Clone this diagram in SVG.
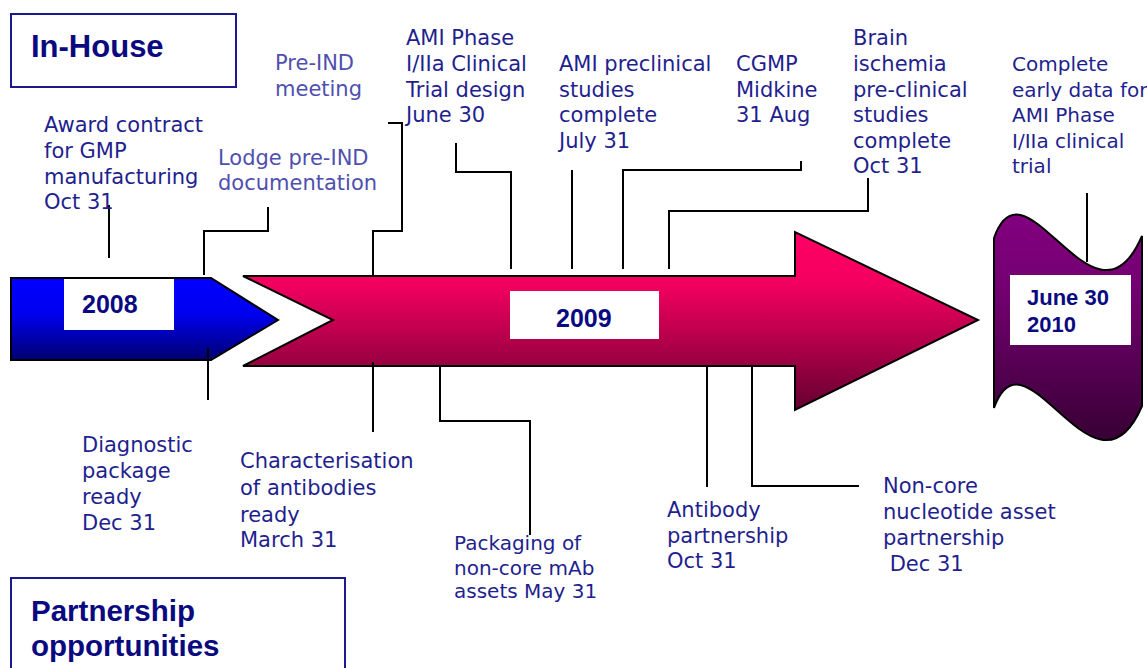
<svg xmlns="http://www.w3.org/2000/svg" width="1147" height="668" viewBox="0 0 1147 668">
<style>
.lbl{font-family:"DejaVu Sans","Liberation Sans",sans-serif;font-size:21px;fill:#1f1f8e}
.lt{fill:#4f4fae}
.sm{font-size:20px}
.hd{font-family:"Liberation Sans",Arial,sans-serif;font-weight:bold;font-size:31px;fill:#0a0a80}
.hd2{font-size:29.5px}
.yr{font-family:"Liberation Sans",Arial,sans-serif;font-weight:bold;font-size:25px;fill:#0a0a80}
.yr2{font-family:"Liberation Sans",Arial,sans-serif;font-weight:bold;font-size:22px;fill:#0a0a80}
.box{fill:#fff;stroke:#1a1a8c;stroke-width:2}
.wb{fill:#fff}
.conn path{fill:none;stroke:#000;stroke-width:2}
</style>
<defs>
<linearGradient id="gBlue" x1="0" y1="0" x2="0" y2="1"><stop offset="0" stop-color="#0000ff"/><stop offset="0.45" stop-color="#0000ee"/><stop offset="1" stop-color="#000070"/></linearGradient>
<linearGradient id="gPink" x1="0" y1="0" x2="0" y2="1"><stop offset="0" stop-color="#ff0066"/><stop offset="0.3" stop-color="#f2005f"/><stop offset="1" stop-color="#640030"/></linearGradient>
<linearGradient id="gPurple" x1="0" y1="0" x2="0" y2="1"><stop offset="0" stop-color="#820080"/><stop offset="0.35" stop-color="#720070"/><stop offset="1" stop-color="#380034"/></linearGradient>
</defs>
<rect width="1147" height="668" fill="#fff"/>

<g id="inhouse"><rect class="box" x="11" y="14" width="225" height="73"/><text class="hd" x="31" y="57">In-House</text></g>
<g id="partnership"><rect class="box" x="11" y="578" width="334" height="100"/><text class="hd hd2" x="31" y="621">Partnership</text><text class="hd hd2" x="31" y="656">opportunities</text></g>

<g id="arrow2008"><polygon points="11,278 211,278 278,320 211,360 11,360" fill="url(#gBlue)" stroke="#000" stroke-width="2"/><rect class="wb" x="64" y="279" width="110" height="51"/><text class="yr" x="82" y="313">2008</text></g>
<g id="arrow2009"><polygon points="243,276 795,276 795,232 978,320 795,410 795,366 243,366 333,320" fill="url(#gPink)" stroke="#000" stroke-width="2"/><rect class="wb" x="510" y="291" width="149" height="48"/><text class="yr" x="556" y="327">2009</text></g>
<g id="banner2010"><path d="M994,238 C1025,150 1095,345 1142,236 L1142,406 C1095,515 1025,320 994,408 Z" fill="url(#gPurple)" stroke="#000" stroke-width="2"/><rect class="wb" x="1010" y="275" width="121" height="70"/><text class="yr2" x="1027" y="305">June 30</text><text class="yr2" x="1027" y="332">2010</text></g>

<g class="conn" id="connectors">
<path d="M109,205 V258"/>
<path d="M268,207 V231 H204 V275"/>
<path d="M388,123 H402 V231 H373 V276"/>
<path d="M456,143 V172 H511 V269"/>
<path d="M572,170 V269"/>
<path d="M801,161 V170 H623 V269"/>
<path d="M868,178 V211 H669 V269"/>
<path d="M1087,193 V262"/>
<path d="M208,348 V400"/>
<path d="M373,362 V432"/>
<path d="M440,366 V421 H530 V535"/>
<path d="M707,366 V487"/>
<path d="M752,366 V486 H859"/>
</g>

<g id="t-award"><text class="lbl" x="44" y="132"><tspan x="44">Award contract</tspan><tspan x="44" dy="26">for GMP</tspan><tspan x="44" dy="26">manufacturing</tspan><tspan x="44" dy="25">Oct 31</tspan></text></g>
<g id="t-lodge"><text class="lbl lt" x="218" y="165"><tspan x="218">Lodge pre-IND</tspan><tspan x="218" dy="25">documentation</tspan></text></g>
<g id="t-preind"><text class="lbl lt" x="275" y="70"><tspan x="275">Pre-IND</tspan><tspan x="275" dy="26">meeting</tspan></text></g>
<g id="t-amiphase"><text class="lbl" x="406" y="45"><tspan x="406">AMI Phase</tspan><tspan x="406" dy="26">I/IIa Clinical</tspan><tspan x="406" dy="26">Trial design</tspan><tspan x="406" dy="25">June 30</tspan></text></g>
<g id="t-amipre"><text class="lbl" x="559" y="71"><tspan x="559">AMI preclinical</tspan><tspan x="559" dy="26">studies</tspan><tspan x="559" dy="25">complete</tspan><tspan x="559" dy="26">July 31</tspan></text></g>
<g id="t-cgmp"><text class="lbl" x="736" y="71"><tspan x="736">CGMP</tspan><tspan x="736" dy="26">Midkine</tspan><tspan x="736" dy="25">31 Aug</tspan></text></g>
<g id="t-brain"><text class="lbl" x="853" y="45"><tspan x="853">Brain</tspan><tspan x="853" dy="26">ischemia</tspan><tspan x="853" dy="26">pre-clinical</tspan><tspan x="853" dy="25">studies</tspan><tspan x="853" dy="26">complete</tspan><tspan x="853" dy="25">Oct 31</tspan></text></g>
<g id="t-complete"><text class="lbl sm" x="1012" y="71"><tspan x="1012">Complete</tspan><tspan x="1012" dy="25.5">early data for</tspan><tspan x="1012" dy="25.5">AMI Phase</tspan><tspan x="1012" dy="25.5">I/IIa clinical</tspan><tspan x="1012" dy="25.5">trial</tspan></text></g>
<g id="t-diag"><text class="lbl" x="82" y="452"><tspan x="82">Diagnostic</tspan><tspan x="82" dy="26">package</tspan><tspan x="82" dy="26">ready</tspan><tspan x="82" dy="26">Dec 31</tspan></text></g>
<g id="t-char"><text class="lbl" x="240" y="468"><tspan x="240">Characterisation</tspan><tspan x="240" dy="27">of antibodies</tspan><tspan x="240" dy="27">ready</tspan><tspan x="240" dy="25">March 31</tspan></text></g>
<g id="t-pack"><text class="lbl sm" x="454" y="550"><tspan x="454">Packaging of</tspan><tspan x="454" dy="24.5">non-core mAb</tspan><tspan x="454" dy="23.5">assets May 31</tspan></text></g>
<g id="t-antibody"><text class="lbl" x="667" y="517"><tspan x="667">Antibody</tspan><tspan x="667" dy="26">partnership</tspan><tspan x="667" dy="25">Oct 31</tspan></text></g>
<g id="t-noncore"><text class="lbl" x="883" y="493"><tspan x="883">Non-core</tspan><tspan x="883" dy="25.5">nucleotide asset</tspan><tspan x="883" dy="26">partnership</tspan><tspan x="883" dy="26"> Dec 31</tspan></text></g>
</svg>
